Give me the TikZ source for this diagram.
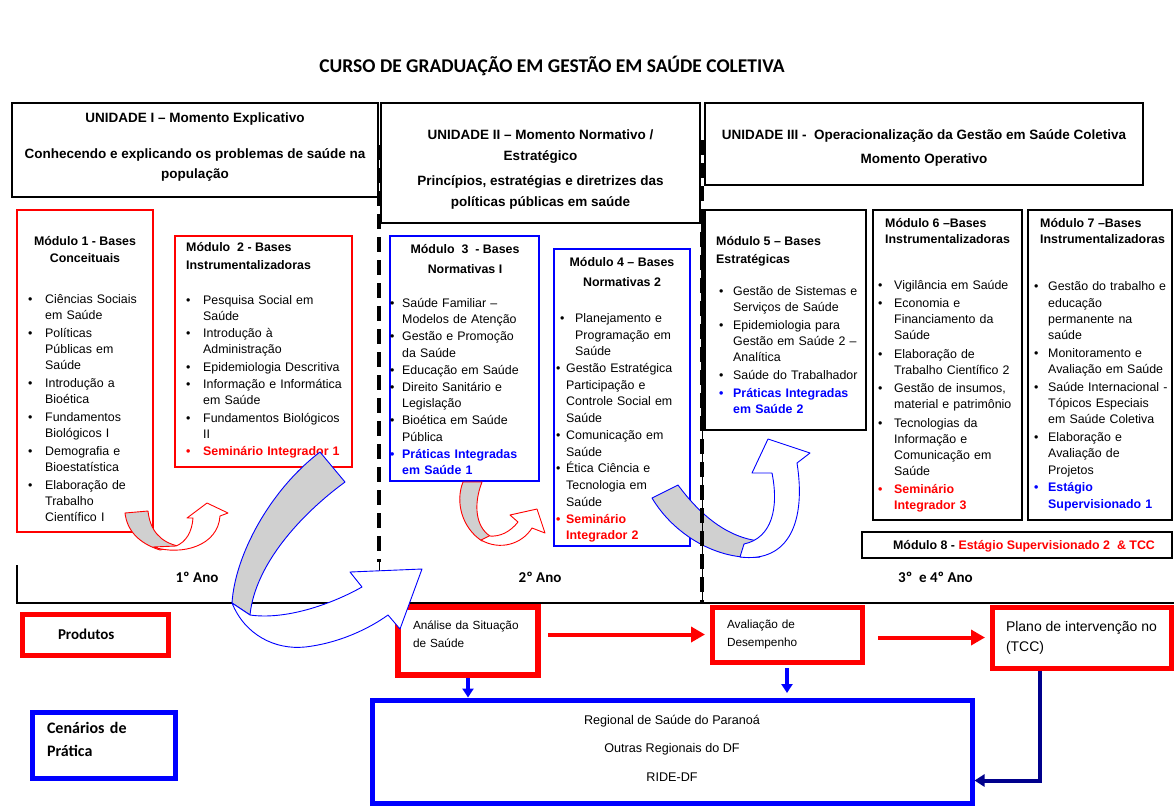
\documentclass[tikz,border=0pt]{standalone}
\usepackage{fontspec}
\setmainfont{Liberation Sans}
\newfontfamily\calib{Carlito}
\usetikzlibrary{arrows.meta,positioning}

\definecolor{navyblue}{RGB}{0,0,140}
\definecolor{ribbongray}{RGB}{208,208,208}

\newcommand{\bul}[2][17pt]{\par\hangindent=#1\hangafter=1\noindent\strut\hbox to #1{\textbullet\hfil}{\let\\\newline#2}}

\begin{document}
\begin{tikzpicture}[x=1pt,y=-1pt,
		unitbox/.style={draw=black, line width=1.6pt},
		modbox/.style={draw=#1, line width=1.3pt},
		unittext/.style={font=\bfseries\fontsize{13.5}{#1}\selectfont, align=center, inner sep=0pt, anchor=north},
		modhead/.style={font=\bfseries\fontsize{12.4}{#1}\selectfont, inner sep=0pt},
		modlist/.style 2 args={font=\fontsize{12.4}{#1}\selectfont\setlength{\parskip}{#2}\raggedright, inner sep=0pt, anchor=north west, text width=160pt},
		ano/.style={font=\calib\bfseries\fontsize{15}{18}\selectfont, inner sep=0pt},
		redbox/.style={draw=red, line width=5pt},
		bluebox/.style={draw=blue, line width=5pt},
		sepline/.style={line width=3.8pt, dash pattern=on 15pt off 8pt},
		ribred/.style={draw=red, line width=0.9pt, line join=round},
		ribblue/.style={draw=blue, line width=0.9pt, line join=round},
		redarrow/.style={red, line width=4pt, -{Triangle[length=14pt,width=15pt]}},
		bluearrow/.style={blue, line width=4pt, -{Triangle[length=9pt,width=11pt]}},
		navyarrow/.style={navyblue, line width=4pt, -{Triangle[length=10pt,width=12pt]}}
	]
		\useasboundingbox (0,0) rectangle (1174,807);
		\node[font=\calib\bfseries\fontsize{19.5}{22}\selectfont] (titulo) at (552,66) {CURSO DE GRADUAÇÃO EM GESTÃO EM SAÚDE COLETIVA};

		\draw[unitbox] (12,103) rectangle (378,197);
		\draw[unitbox] (381,103) rectangle (700,223);
		\draw[unitbox] (705,103) rectangle (1143,185);
		\node[unittext=20] (unid1) at (195,108) {\strut UNIDADE I – Momento Explicativo\\[16pt]Conhecendo e explicando os problemas de saúde na\\população};
		\node[unittext=21] (unid2) at (540.5,124.3) {\strut UNIDADE II – Momento Normativo /\\Estratégico\\[4pt]Princípios, estratégias e diretrizes das\\políticas públicas em saúde};
		\node[unittext=24] (unid3) at (924,122.2) {\strut UNIDADE III -\ \ Operacionalização da Gestão em Saúde Coletiva\\Momento Operativo};

		\draw[modbox=red] (17,210) rectangle (153,532);
		\draw[modbox=red] (175,236) rectangle (352,467);
		\draw[modbox=blue] (390,236) rectangle (539,481);
		\draw[modbox=blue] (554,249) rectangle (690,546);
		\draw[modbox=black] (705,210) rectangle (866,430);
		\draw[modbox=black] (873,210) rectangle (1022,520);
		\draw[modbox=black] (1028,210) rectangle (1172,520);
		\draw[modbox=black] (862,532) rectangle (1172,558);

		\node[modhead=17, align=center, anchor=north] (m1head) at (85,233.8) {\strut Módulo 1 - Bases\\Conceituais};
		\node[modlist={16pt}{2pt}] (m1list) at (28,285.3) {
			\bul{Ciências Sociais\\em Saúde}
			\bul{Políticas\\Públicas em\\Saúde}
			\bul{Introdução a\\Bioética}
			\bul{Fundamentos\\Biológicos I}
			\bul{Demografia e\\Bioestatística}
			\bul{Elaboração de\\Trabalho\\Científico I}\par
		};

		\node[modhead=18, align=left, anchor=north west] (m2head) at (186,239.1) {\strut Módulo\ \ 2 - Bases\\Instrumentalizadoras};
		\node[modlist={16pt}{1.5pt}] (m2list) at (186,286.3) {
			\bul{Pesquisa Social em\\Saúde}
			\bul{Introdução à\\Administração}
			\bul{Epidemiologia Descritiva}
			\bul{Informação e Informática\\em Saúde}
			\bul{Fundamentos Biológicos\\II}
			\color{red}\bfseries\bul{Seminário Integrador 1}\par
		};

		\node[modhead=20, align=center, anchor=north] (m3head) at (465,239.7) {\strut Módulo\ \ 3\ \ - Bases\\Normativas I};
		\node[modlist={16.5pt}{0.5pt}] (m3list) at (390,290) {
			\bul[12pt]{Saúde Familiar –\\Modelos de Atenção}
			\bul[12pt]{Gestão e Promoção\\da Saúde}
			\bul[12pt]{Educação em Saúde}
			\bul[12pt]{Direito Sanitário e\\Legislação}
			\bul[12pt]{Bioética em Saúde\\Pública}
			\color{blue}\bfseries\bul[12pt]{Práticas Integradas\\em Saúde 1}\par
		};

		\node[modhead=20, align=center, anchor=north] (m4head) at (622,252.7) {\strut Módulo 4 – Bases\\Normativas 2};
		\node[modlist={16.6pt}{0.3pt}] (m4list) at (556,305.5) {
			\par\hangindent=19pt\hangafter=1\noindent\strut\hskip4pt\hbox to 15pt{\textbullet\hfil}Planejamento e\newline Programação em\newline Saúde
			\bul[10pt]{Gestão Estratégica\\Participação e\\Controle Social em\\Saúde}
			\bul[10pt]{Comunicação em\\Saúde}
			\bul[10pt]{Ética Ciência e\\Tecnologia em\\Saúde}
			\color{red}\bfseries\bul[10pt]{Seminário\\Integrador 2}\par
		};

		\node[modhead=18, align=left, anchor=north west] (m5head) at (716,233.1) {\strut Módulo 5 – Bases\\Estratégicas};
		\node[modlist={16pt}{2pt}] (m5list) at (719,277.3) {
			\bul[14pt]{Gestão de Sistemas e\\Serviços de Saúde}
			\bul[14pt]{Epidemiologia para\\Gestão em Saúde 2 –\\Analítica}
			\bul[14pt]{Saúde do Trabalhador}
			\color{blue}\bfseries\bul[14pt]{Práticas Integradas\\em Saúde 2}\par
		};

		\node[modhead=16, align=left, anchor=north west] (m6head) at (885,216.5) {\strut Módulo 6 –Bases\\Instrumentalizadoras};
		\node[modlist={16pt}{2.5pt}] (m6list) at (878,270.3) {
			\bul[16pt]{Vigilância em Saúde}
			\bul[16pt]{Economia e\\Financiamento da\\Saúde}
			\bul[16pt]{Elaboração de\\Trabalho Científico 2}
			\bul[16pt]{Gestão de insumos,\\material e patrimônio}
			\bul[16pt]{Tecnologias da\\Informação e\\Comunicação em\\Saúde}
			\color{red}\bfseries\bul[16pt]{Seminário\\Integrador 3}\par
		};

		\node[modhead=16, align=left, anchor=north west] (m7head) at (1040,216.5) {\strut Módulo 7 –Bases\\Instrumentalizadoras};
		\node[modlist={16.3pt}{1.3pt}] (m7list) at (1034,273.1) {
			\bul[14pt]{Gestão do trabalho e\\educação\\permanente na\\saúde}
			\bul[14pt]{Monitoramento e\\Avaliação em Saúde}
			\bul[14pt]{Saúde Internacional -\\Tópicos Especiais\\em Saúde Coletiva}
			\bul[14pt]{Elaboração e\\Avaliação de\\Projetos}
			\color{blue}\bfseries\bul[14pt]{Estágio\\Supervisionado 1}\par
		};

		\node[font=\bfseries\fontsize{12.4}{15}\selectfont, inner sep=0pt] (m8) at (1024,546) {Módulo 8 - \textcolor{red}{Estágio Supervisionado 2\ \ \& TCC}};

		\node[ano] (ano1) at (197,577) {1º Ano};
		\node[ano] (ano2) at (540,577) {2º Ano};
		\node[ano, anchor=west] (ano3) at (898,577) {3º\ \ e 4º Ano};

		\draw[line width=1.5pt] (17,565) -- (17,603) -- (1174,603);
		\draw[sepline] (379,145) -- (379,562);
		\draw[line width=1pt] (379,560) -- (379,572);

		\node[redbox, minimum width=146pt, minimum height=41pt, text width=74pt, inner xsep=36pt, inner ysep=0pt, align=left, font=\calib\bfseries\fontsize{15}{18}\selectfont] (produtos) at (95,634.5) {Produtos};
		\node[bluebox, minimum width=143pt, minimum height=66pt, text width=113pt, inner xsep=15pt, inner ysep=0pt, align=left, font=\calib\bfseries\fontsize{16}{23}\selectfont] (cenarios) at (103.5,745) {Cenários de\\Prática\rule[-12pt]{0pt}{0pt}};
		\node[redbox, line width=6pt, minimum width=140pt, minimum height=68pt, text width=110pt, inner xsep=15pt, inner ysep=0pt, align=left, font=\fontsize{11.8}{18}\selectfont] (analise) at (468,641) {Análise da Situação\\de Saúde\rule[-13pt]{0pt}{0pt}};
		\node[redbox, minimum width=150pt, minimum height=55pt, text width=120pt, inner xsep=15pt, align=left, font=\fontsize{11.8}{18}\selectfont] (avaliacao) at (787,634.5) {Avaliação de\\Desempenho};
		\node[redbox, minimum width=179pt, minimum height=61pt, align=left, font=\fontsize{14}{20}\selectfont] (plano) at (1081.5,637.5) {Plano de intervenção no\\(TCC)};
		\node[bluebox, minimum width=600pt, minimum height=103pt, align=center, font=\fontsize{12.6}{28.5}\selectfont] (regional) at (672,751.5) {Regional de Saúde do Paranoá\\Outras Regionais do DF\\RIDE-DF\\[-21.5pt]};

		\draw[redarrow, shorten <=7pt, shorten >=4.5pt] (analise.east |- avaliacao.west) -- (avaliacao.west);
		\draw[redarrow, shorten <=13.5pt, shorten >=4.5pt] (avaliacao.east |- plano.west) -- (plano.west);
		\draw[bluearrow] (analise.south) -- (analise.south |- regional.north);
		\draw[bluearrow, shorten <=3.5pt, shorten >=4.5pt] (avaliacao.south) -- (avaliacao.south |- regional.north);
		\coordinate (tccout) at ([xshift=-41.5pt]plano.south);
		\draw[navyarrow] (tccout) |- ([yshift=-29pt]regional.east);

		\draw[ribred, fill=ribbongray] (125,513) -- (148,511) .. controls (150,530) and (160,542) .. (178,546) -- (160,550) .. controls (138,543) and (127,530) .. (125,513) -- cycle;
		\draw[ribred, fill=white] (153,547) .. controls (182,556) and (218,546) .. (220,516) -- (228,513) -- (207,503) -- (187,518) -- (193,518) .. controls (192,532) and (186,542) .. (176,546) -- cycle;

		\draw[ribred, fill=ribbongray] (463,482) -- (482,482) .. controls (473,505) and (476,527) .. (490,536) -- (482,541) .. controls (462,528) and (455,502) .. (463,482) -- cycle;
		\draw[ribred, fill=white] (481,540) .. controls (500,551) and (522,544) .. (532,528) -- (545,533) -- (537,509) -- (510,515) -- (518,522) .. controls (510,532) and (500,537) .. (489,536) -- cycle;

		\draw[ribblue, fill=ribbongray] (320,452) -- (345,482) .. controls (300,515) and (255,565) .. (250,615) -- (232,603) .. controls (235,555) and (270,490) .. (320,452) -- cycle;
		\draw[ribblue, fill=white] (232,603) .. controls (245,635) and (275,650) .. (305,647) .. controls (340,643) and (370,628) .. (388,615) -- (400,629) -- (422,569) -- (350,572) -- (362,587) .. controls (330,605) and (285,620) .. (250,615) -- cycle;

		\draw[ribblue, fill=ribbongray] (652,498) -- (678,485) .. controls (700,515) and (728,538) .. (760,541) -- (760,557) .. controls (718,561) and (674,535) .. (652,498) -- cycle;
		\draw[ribblue, fill=white] (740,557) .. controls (790,563) and (806,520) .. (797,463) -- (810,453) -- (768,439) -- (752,473) -- (772,473) .. controls (779,508) and (772,538) .. (744,544) -- cycle;

		\draw[line width=3.5pt] (703,210) -- (703,431);
		\draw[line width=1pt] (702,430) -- (702,603);
		\draw[sepline] (702,140) -- (702,603);
	\end{tikzpicture}
\end{document}
